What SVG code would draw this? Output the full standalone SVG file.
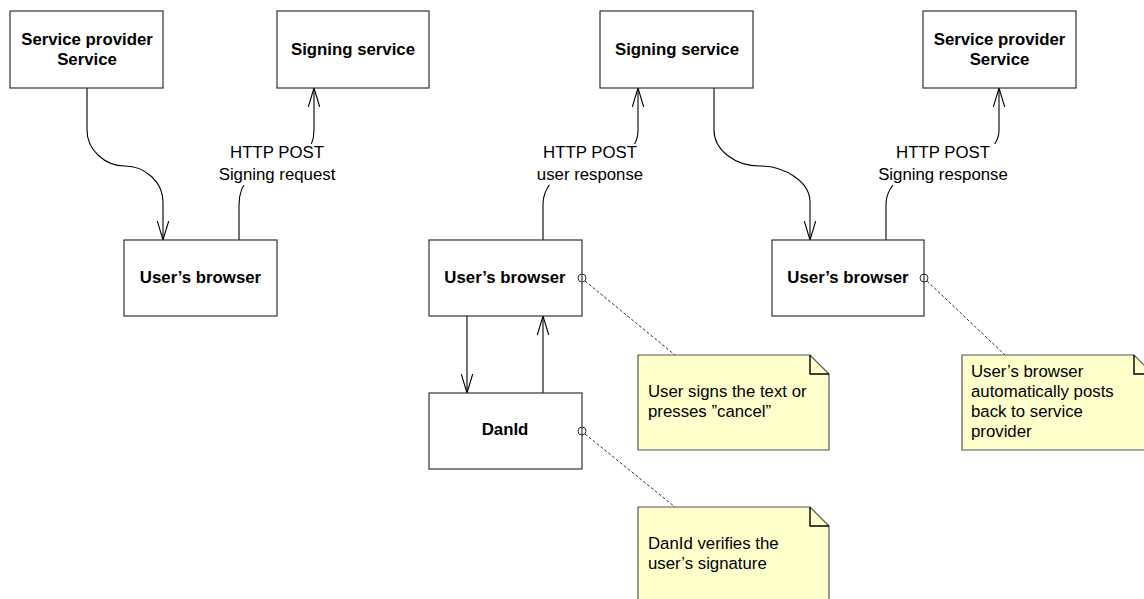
<svg xmlns="http://www.w3.org/2000/svg" width="1144" height="599" viewBox="0 0 1144 599">
<style>
.box{fill:#fff;stroke:#333;stroke-width:1.2}
.b{font-family:"Liberation Sans",Arial,sans-serif;font-size:16.8px;font-weight:bold;fill:#000;text-anchor:middle}
.t{font-family:"Liberation Sans",Arial,sans-serif;font-size:16.8px;fill:#000}
.tc{text-anchor:middle}
.c{fill:none;stroke:#000;stroke-width:1.1}
.d{fill:none;stroke:#333;stroke-width:1;stroke-dasharray:3,2}
.note{fill:#ffffcc;stroke:#555;stroke-width:1.2}
.fold{fill:none;stroke:#000;stroke-width:1.4}
.lbg{fill:#fff}
.o{fill:none;stroke:#333;stroke-width:1}
</style>
<defs>
<marker id="arr" markerWidth="20" markerHeight="13" refX="19" refY="6.5" orient="auto" markerUnits="userSpaceOnUse" viewBox="0 0 20 13">
<path d="M0,0.8 L19,6.5 L0,12.2" fill="none" stroke="#000" stroke-width="1.1"/>
</marker>
</defs>
<rect width="1144" height="599" fill="#fff"/>

<g id="connectors">
<path class="c" d="M87,88 V130 C87,150 105,166 125,166 C145,166 163,182 163,202 V240" marker-end="url(#arr)"/>
<path class="c" d="M239,240 V205 C239,182 255,166 276,166 C297,166 314,152 314,130 V88" marker-end="url(#arr)"/>
<path class="c" d="M714,88 V130 C714,150 735,166 760,166 C785,166 810,182 810,202 V240" marker-end="url(#arr)"/>
<path class="c" d="M543,240 V205 C543,182 565,166 590,166 C615,166 638,152 638,130 V88" marker-end="url(#arr)"/>
<path class="c" d="M886,240 V205 C886,182 910,166 942,166 C970,166 999,152 999,130 V88" marker-end="url(#arr)"/>
<path class="c" d="M467,316 V393" marker-end="url(#arr)"/>
<path class="c" d="M543,393 V316" marker-end="url(#arr)"/>
<rect class="lbg" x="210" y="144" width="134" height="41"/>
<text class="t tc" x="277" y="158">HTTP POST</text>
<text class="t tc" x="277" y="180">Signing request</text>
<rect class="lbg" x="533" y="144" width="114" height="41"/>
<text class="t tc" x="590" y="158">HTTP POST</text>
<text class="t tc" x="590" y="180">user response</text>
<rect class="lbg" x="874" y="144" width="138" height="41"/>
<text class="t tc" x="943" y="158">HTTP POST</text>
<text class="t tc" x="943" y="180">Signing response</text>
<path class="d" d="M585,281 L675,355"/>
<path class="d" d="M585,434 L675,507"/>
<path class="d" d="M927,281 L1005,355"/>
</g>

<g id="sp1"><rect class="box" x="10" y="11" width="153" height="77"/>
<text class="b" x="87" y="45">Service provider</text><text class="b" x="87" y="65">Service</text></g>
<g id="ss1"><rect class="box" x="277" y="11" width="152" height="77"/>
<text class="b" x="353" y="55">Signing service</text></g>
<g id="ub1"><rect class="box" x="124" y="240" width="153" height="76"/>
<text class="b" x="200.5" y="283">User’s browser</text></g>
<g id="ss2"><rect class="box" x="600" y="11" width="153" height="77"/>
<text class="b" x="677" y="55">Signing service</text></g>
<g id="ub2"><rect class="box" x="429" y="240" width="153" height="76"/>
<text class="b" x="505" y="283">User’s browser</text>
<circle class="o" cx="582" cy="278" r="4"/></g>
<g id="danid"><rect class="box" x="429" y="393" width="153" height="76"/>
<text class="b" x="505" y="435">DanId</text>
<circle class="o" cx="582" cy="431" r="4"/></g>
<g id="sp2"><rect class="box" x="923" y="11" width="153" height="77"/>
<text class="b" x="999.5" y="45">Service provider</text><text class="b" x="999.5" y="65">Service</text></g>
<g id="ub3"><rect class="box" x="772" y="240" width="152" height="76"/>
<text class="b" x="848" y="283">User’s browser</text>
<circle class="o" cx="924" cy="278" r="4"/></g>

<g id="note1">
<path class="note" d="M638,355 H810 L829,374 V450 H638 Z"/>
<path class="fold" d="M810,355 V374 H829"/>
<text class="t" x="648" y="397">User signs the text or</text>
<text class="t" x="648" y="417">presses ”cancel”</text>
</g>
<g id="note2">
<path class="note" d="M638,507 H810 L829,526 V605 H638 Z"/>
<path class="fold" d="M810,507 V526 H829"/>
<text class="t" x="648" y="549">DanId verifies the</text>
<text class="t" x="648" y="569">user’s signature</text>
</g>
<g id="note3">
<path class="note" d="M962,355 H1134 L1153,374 V450 H962 Z"/>
<path class="fold" d="M1134,355 V374 H1153"/>
<text class="t" x="971" y="377">User’s browser</text>
<text class="t" x="971" y="397">automatically posts</text>
<text class="t" x="971" y="417">back to service</text>
<text class="t" x="971" y="437">provider</text>
</g>
</svg>
